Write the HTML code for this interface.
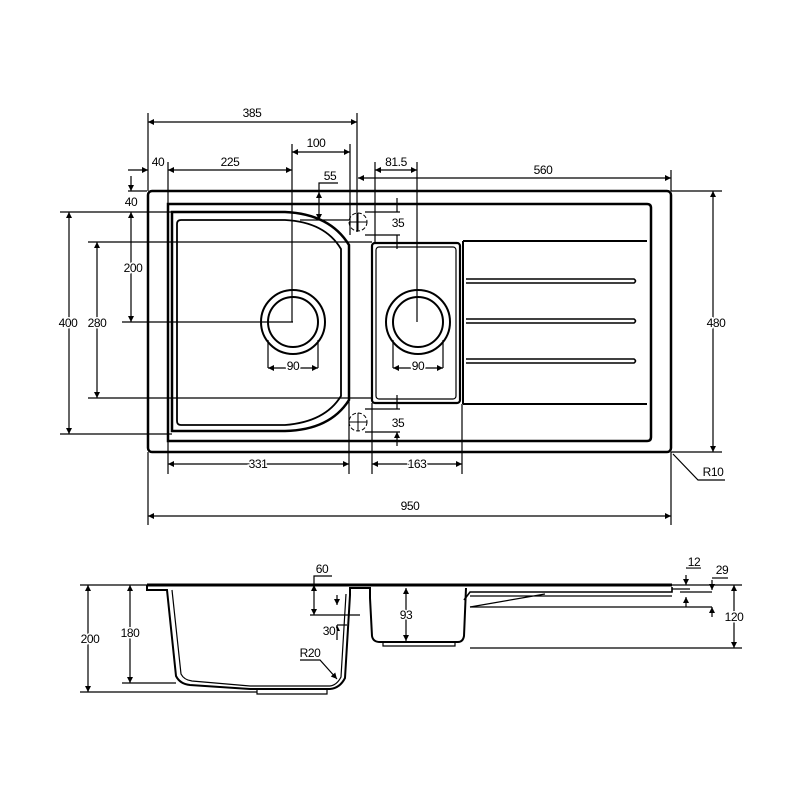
<!DOCTYPE html>
<html><head><meta charset="utf-8"><style>
html,body{margin:0;padding:0;background:#fff}
svg{display:block}
text{font-family:"Liberation Sans",sans-serif;font-size:12px;fill:#000;letter-spacing:-0.4px;paint-order:stroke;stroke:#fff;stroke-width:3px}
</style></head><body>
<svg width="800" height="800" viewBox="0 0 800 800" xmlns="http://www.w3.org/2000/svg">
<defs>
<marker id="a" viewBox="0 0 10 10" refX="10" refY="5" markerWidth="8" markerHeight="6" orient="auto-start-reverse" markerUnits="userSpaceOnUse"><path d="M0,0L10,5L0,10z" fill="#000"/></marker>
</defs>
<g fill="none" stroke="#000">
<rect x="148" y="191" width="523" height="261" rx="4" stroke-width="2.5"/>
<path d="M168,204 H647 Q651,204 651,208 V437 Q651,441 647,441 H168 Z" stroke-width="2.5"/>
<path d="M172,212 H285 Q330,214 349,245 V400 Q330,430 285,431 H172 Z" stroke-width="2.5"/>
<path d="M181,220 H285 Q325,222 341,249 V396 Q325,422 285,425 H181 Q177,425 177,421 V224 Q177,220 181,220 Z" stroke-width="1.8"/>
<rect x="372" y="243" width="88" height="160" rx="3" stroke-width="2.2"/>
<rect x="376" y="247" width="80" height="152" rx="3" stroke-width="1.2"/>
<path d="M463,241 H647 M463,241 V404 M463,404 H647" stroke-width="2"/>
<path d="M466,279 H634 Q637,281 634,283 H466" stroke-width="1.6"/>
<path d="M466,319 H634 Q637,321 634,323 H466" stroke-width="1.6"/>
<path d="M466,359 H634 Q637,361 634,363 H466" stroke-width="1.6"/>
<circle cx="293" cy="322" r="32" stroke-width="2"/><circle cx="293" cy="322" r="25" stroke-width="2"/>
<circle cx="418" cy="322" r="32" stroke-width="2"/><circle cx="418" cy="322" r="25" stroke-width="2"/>
<circle cx="358" cy="222" r="9" stroke-width="1" stroke-dasharray="4,2"/>
<circle cx="358" cy="422" r="9" stroke-width="1" stroke-dasharray="4,2"/>
<path d="M349,222H367M358,213V231M349,422H367M358,413V431" stroke-width="1"/>
</g>
<g fill="none" stroke="#000" stroke-width="1.2">
<path d="M148,191V113M357,232V113M292,322V144M350,235V144M168,212V162M375,243V162M417,322V162M671,191V170M128,191H147"/>
<path d="M148,122H357" marker-start="url(#a)" marker-end="url(#a)"/>
<path d="M292,152H350" marker-start="url(#a)" marker-end="url(#a)"/>
<path d="M168,170H292" marker-start="url(#a)" marker-end="url(#a)"/>
<path d="M128,170H148" marker-end="url(#a)"/>
<path d="M375,170H417" marker-start="url(#a)" marker-end="url(#a)"/>
<path d="M358,178H671" marker-start="url(#a)" marker-end="url(#a)"/>
<path d="M131,176V191" marker-end="url(#a)"/>
<path d="M319,192V220" marker-start="url(#a)" marker-end="url(#a)"/><path d="M319,192V183H338M300,220H349"/>
<path d="M365,212H400M365,235H400M365,409H400M365,432H400"/>
<path d="M397,198V212M397,249V235M397,395V409M397,446V432" marker-end="url(#a)"/>
<path d="M60,212H172M88,242H372M122,322H293M60,434H172M88,398H372"/>
<path d="M69,212V434" marker-start="url(#a)" marker-end="url(#a)"/>
<path d="M97,242V398" marker-start="url(#a)" marker-end="url(#a)"/>
<path d="M131,212V322" marker-start="url(#a)" marker-end="url(#a)"/>
<path d="M671,191H722M671,452H722"/>
<path d="M713,191V452" marker-start="url(#a)" marker-end="url(#a)"/>
<path d="M168,431V474M349,400V474M372,403V474M462,404V474M148,452V525M671,452V525"/>
<path d="M168,464H349" marker-start="url(#a)" marker-end="url(#a)"/>
<path d="M372,464H462" marker-start="url(#a)" marker-end="url(#a)"/>
<path d="M148,516H671" marker-start="url(#a)" marker-end="url(#a)"/>
<path d="M673,454L698,480H725"/>
<path d="M268,368V340M318,368V340M393,368V340M443,368V340"/>
<path d="M268,368H318" marker-start="url(#a)" marker-end="url(#a)"/>
<path d="M393,368H443" marker-start="url(#a)" marker-end="url(#a)"/>
</g>
<g text-anchor="middle">
<text x="252" y="117">385</text><text x="316" y="147">100</text><text x="158" y="166">40</text><text x="230" y="166">225</text>
<text x="396" y="166">81.5</text><text x="543" y="174">560</text><text x="330" y="180">55</text>
<text x="131" y="206">40</text><text x="398" y="227">35</text><text x="398" y="427">35</text>
<text x="133" y="272">200</text><text x="68" y="327">400</text><text x="97" y="327">280</text><text x="716" y="327">480</text>
<text x="293" y="370">90</text><text x="418" y="370">90</text>
<text x="258" y="468">331</text><text x="417" y="468">163</text><text x="410" y="510">950</text><text x="713" y="476">R10</text>
</g>
<g fill="none" stroke="#000">
<path d="M147,585H672" stroke-width="3"/>
<path d="M147,585V590H167L176,676Q180,684 190,685L250,689H330Q340,688 345,678L350,595V588H370V598L372,636Q373,642 380,642H458Q463,642 464,636L466,588" stroke-width="2"/>
<path d="M172,590L181,674Q184,680 192,681L250,686H330Q337,685 341,677L346,594" stroke-width="1.2"/>
<path d="M257,689V694H327V689M383,642V646H455V642" stroke-width="1.2"/>
<path d="M464,600L470,592H672V587" stroke-width="1.6"/>
<path d="M470,596H672M470,607L545,594" stroke-width="1.2"/>
</g>
<g fill="none" stroke="#000" stroke-width="1.2">
<path d="M80,585H147M122,683H176M80,692H257M310,615H360M470,648H742M470,607H712M672,589H690M680,592H712"/>
<path d="M88,585V692" marker-start="url(#a)" marker-end="url(#a)"/>
<path d="M130,585V683" marker-start="url(#a)" marker-end="url(#a)"/>
<path d="M314,585V615" marker-start="url(#a)" marker-end="url(#a)"/><path d="M314,585V576H332"/>
<path d="M337,595V605" marker-end="url(#a)"/><path d="M337,640V625" marker-end="url(#a)"/><path d="M337,625H347"/>
<path d="M406,588V641" marker-start="url(#a)" marker-end="url(#a)"/>
<path d="M686,575V585" marker-end="url(#a)"/><path d="M686,607V597" marker-end="url(#a)"/><path d="M686,568H701"/>
<path d="M712,580V590" marker-end="url(#a)"/><path d="M712,617V607" marker-end="url(#a)"/><path d="M712,578H728"/>
<path d="M672,585H742"/><path d="M734,585V648" marker-start="url(#a)" marker-end="url(#a)"/>
<path d="M300,660H320L337,679" marker-end="url(#a)"/>
</g>
<g text-anchor="middle">
<text x="322" y="573">60</text><text x="90" y="643">200</text><text x="130" y="637">180</text>
<text x="329" y="635">30</text><text x="406" y="619">93</text><text x="310" y="657">R20</text>
<text x="694" y="566">12</text><text x="722" y="574">29</text><text x="734" y="621">120</text>
</g>
</svg>
</body></html>
